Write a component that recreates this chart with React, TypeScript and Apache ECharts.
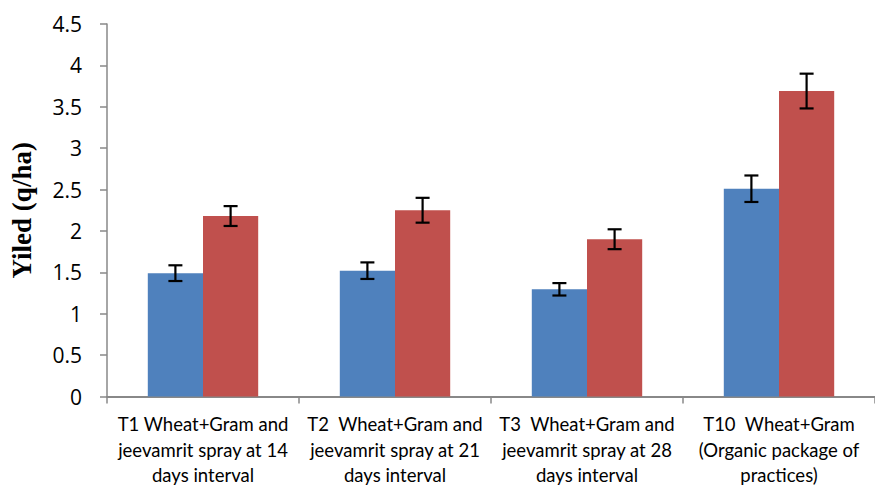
import React, { useEffect, useRef } from "react";
import * as echarts from "echarts";

const categories = [
  "T1 Wheat+Gram and\njeevamrit spray at 14\ndays interval",
  "T2  Wheat+Gram and\njeevamrit spray at 21\ndays interval",
  "T3  Wheat+Gram and\njeevamrit spray at 28\ndays interval",
  "T10  Wheat+Gram\n(Organic package of\npractices)",
];
const seriesA = [1.49, 1.52, 1.295, 2.51];
const seriesB = [2.18, 2.25, 1.9, 3.69];
const errA = [0.095, 0.1, 0.075, 0.16];
const errB = [0.12, 0.15, 0.12, 0.21];
const yTicks = { min: 0, max: 4.5, interval: 0.5 };

const CAT_GAP = 0.425;

export default function App() {
  const ref = useRef<HTMLDivElement>(null);
  useEffect(() => {
    const chart = echarts.init(ref.current!, null, { renderer: "svg" });
    const errData: number[][] = [];
    categories.forEach((_, i) => {
      errData.push([i, seriesA[i] - errA[i], seriesA[i] + errA[i], 0]);
      errData.push([i, seriesB[i] - errB[i], seriesB[i] + errB[i], 1]);
    });
    chart.setOption({
      animation: false,
      grid: { left: 104, top: 24, bottom: 84, width: 779, containLabel: false },
      xAxis: {
        type: "category",
        data: categories,
        axisLine: { lineStyle: { color: "#888", width: 2 } },
        axisTick: { show: true, length: 7, lineStyle: { color: "#888", width: 1.5 } },
        axisLabel: {
          interval: 0,
          color: "#000",
          fontFamily: "Lato, sans-serif",
          fontSize: 18.5,
          lineHeight: 25.5,
          margin: 15,
        },
      },
      yAxis: {
        type: "value",
        min: yTicks.min,
        max: yTicks.max,
        interval: yTicks.interval,
        name: "Yiled (q/ha)",
        nameLocation: "middle",
        nameGap: 72,
        nameTextStyle: {
          fontFamily: "Liberation Serif, serif",
          fontWeight: "bold",
          fontSize: 27,
          color: "#000",
        },
        splitLine: { show: false },
        axisLine: { show: true, lineStyle: { color: "#888", width: 1.5 } },
        axisTick: { show: true, length: 7, lineStyle: { color: "#888", width: 1.5 } },
        axisLabel: {
          color: "#000",
          fontFamily: "Open Sans, sans-serif",
          fontSize: 21,
          margin: 25,
        },
      },
      series: [
        {
          type: "bar",
          data: seriesA,
          itemStyle: { color: "#4F81BD" },
          barGap: "0%",
          barCategoryGap: CAT_GAP * 100 + "%",
        },
        {
          type: "bar",
          data: seriesB,
          itemStyle: { color: "#C0504D" },
        },
        {
          type: "custom",
          data: errData,
          z: 10,
          renderItem: (params: any, api: any) => {
            const idx = api.value(0);
            const lo = api.value(1);
            const hi = api.value(2);
            const s = api.value(3);
            const catW = api.size([1, 0])[0];
            const barW = (catW * (1 - CAT_GAP)) / 2;
            const pLo = api.coord([idx, lo]);
            const pHi = api.coord([idx, hi]);
            const x = pLo[0] + (s === 0 ? -barW / 2 : barW / 2);
            const cap = 7;
            const style = { stroke: "#000", lineWidth: 2.2 };
            return {
              type: "group",
              children: [
                { type: "line", shape: { x1: x, y1: pLo[1], x2: x, y2: pHi[1] }, style },
                { type: "line", shape: { x1: x - cap, y1: pHi[1], x2: x + cap, y2: pHi[1] }, style },
                { type: "line", shape: { x1: x - cap, y1: pLo[1], x2: x + cap, y2: pLo[1] }, style },
              ],
            };
          },
        },
      ],
    });
    return () => chart.dispose();
  }, []);
  return <div ref={ref} style={{ width: 875, height: 488, position: "fixed", left: 0, top: 0, background: "#fff" }} />;
}
